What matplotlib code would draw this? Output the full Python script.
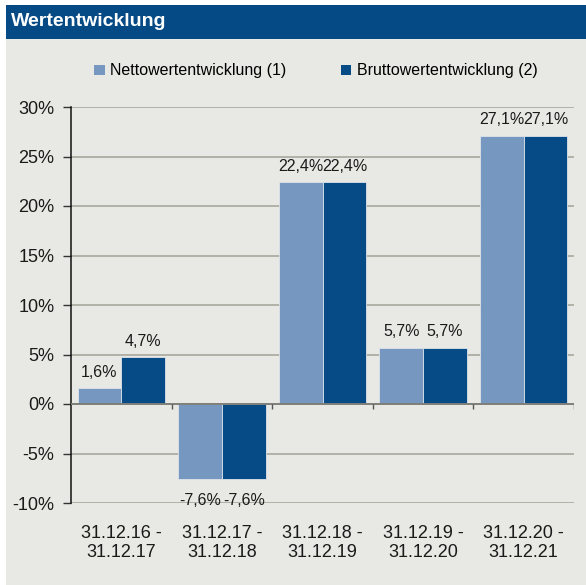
import matplotlib
matplotlib.use("Agg")
import matplotlib.pyplot as plt
from matplotlib.patches import Rectangle
import numpy as np

plt.rcParams['font.family'] = ['Liberation Sans', 'DejaVu Sans']

categories = ["31.12.16 -\n31.12.17", "31.12.17 -\n31.12.18", "31.12.18 -\n31.12.19",
              "31.12.19 -\n31.12.20", "31.12.20 -\n31.12.21"]
netto = [1.6, -7.6, 22.4, 5.7, 27.1]
brutto = [4.7, -7.6, 22.4, 5.7, 27.1]
series_names = ["Nettowertentwicklung (1)", "Bruttowertentwicklung (2)"]
yticks = [-10, -5, 0, 5, 10, 15, 20, 25, 30]
title = "Wertentwicklung"

W, H = 586, 585
fig = plt.figure(figsize=(W / 100, H / 100), dpi=100)
fig.patch.set_facecolor('white')

bg = '#e8e8e4'
navy = '#064a85'
light = '#7697bf'
dark = '#064a86'

fig.patches.append(Rectangle((6 / W, 0), 1 - 6 / W, 1 - 39 / H, transform=fig.transFigure,
                             facecolor=bg, edgecolor='none', zorder=-5))
fig.patches.append(Rectangle((6 / W, 1 - 39 / H), 1 - 6 / W, 34 / H, transform=fig.transFigure,
                             facecolor=navy, edgecolor='none', zorder=-5))
fig.text(11 / W, 1 - 22 / H, title, color='white', fontsize=14, fontweight='bold',
         va='center', ha='left')

ax = fig.add_axes([71 / W, 1 - 503 / H, (574 - 71) / W, (503 - 107) / H])
ax.set_zorder(2)
ax.set_facecolor('none')

x = np.arange(len(categories))
bw = 0.435
b1 = ax.bar(x - bw / 2, netto, bw, color=light, edgecolor='#dfe4ea', linewidth=0.6,
            label=series_names[0], zorder=3)
b2 = ax.bar(x + bw / 2, brutto, bw, color=dark, edgecolor='#dfe4ea', linewidth=0.6,
            label=series_names[1], zorder=3)

def fmt(v):
    return f"{v:.1f}%".replace('.', ',')

for bars, vals in ((b1, netto), (b2, brutto)):
    for rect, v in zip(bars, vals):
        cx = rect.get_x() + rect.get_width() / 2
        if v >= 0:
            ax.annotate(fmt(v), (cx, v), xytext=(0, 6), textcoords='offset points',
                        ha='center', va='bottom', fontsize=11.5, color='#1a1a1a')
        else:
            ax.annotate(fmt(v), (cx, v), xytext=(0, -10), textcoords='offset points',
                        ha='center', va='top', fontsize=11.5, color='#1a1a1a')

ax.set_ylim(-10, 30)
ax.set_xlim(-0.5, len(categories) - 0.5)
ax.set_yticks(yticks)
ax.set_yticklabels([f"{t}%" for t in yticks], fontsize=13, color='#1a1a1a')
for t in yticks:
    if t != 0:
        ax.axhline(t, color='#a9a89e', linewidth=1.2, zorder=1)
ax.axhline(0, color='#7f7f7a', linewidth=1.4, zorder=4)
ax.vlines(np.arange(len(categories)) + 0.5, 0, -0.55, color='#555555', linewidth=1.0, zorder=4)

ax.set_xticks(x)
ax.set_xticklabels(categories, fontsize=13, color='#1a1a1a', linespacing=1.1)
ax.tick_params(axis='x', length=0, pad=16)
ax.tick_params(axis='y', length=6, width=1, color='#333333', pad=6)

for s in ('top', 'right', 'bottom'):
    ax.spines[s].set_visible(False)
ax.spines['left'].set_color('#111111')
ax.spines['left'].set_linewidth(1.1)

leg = ax.legend(loc='center', bbox_to_anchor=(316 / W, 1 - 71 / H),
                bbox_transform=fig.transFigure, ncol=2, frameon=False, fontsize=11.5,
                handlelength=0.65, handleheight=0.65, handletextpad=0.35, columnspacing=3.4)
for h in leg.legend_handles:
    h.set_edgecolor('none')

fig.savefig('out.png', dpi=100, facecolor=fig.get_facecolor())
